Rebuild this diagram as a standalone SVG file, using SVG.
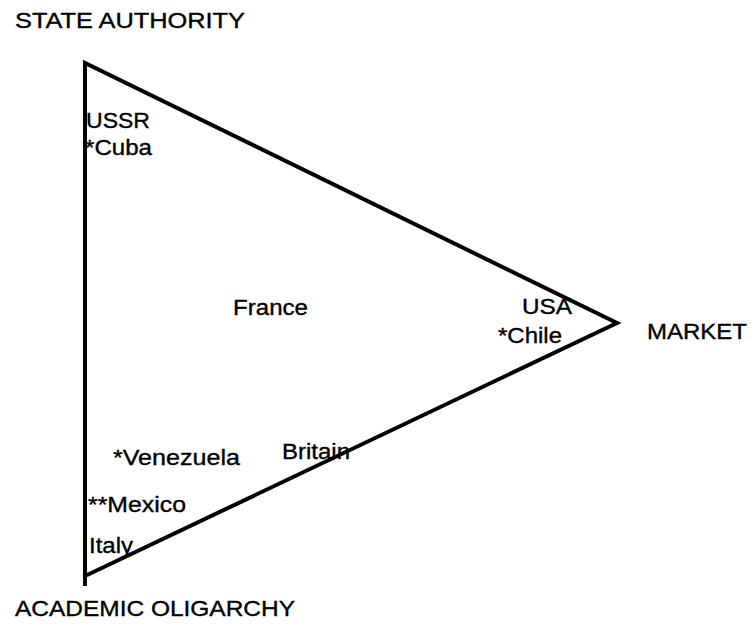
<svg xmlns="http://www.w3.org/2000/svg" width="755" height="628" viewBox="0 0 755 628">
<style>
text{font-family:"Liberation Sans",Arial,sans-serif;font-size:22px;fill:#000;stroke:#000;stroke-width:0.35}
.ax{font-size:22px}
.tri{fill:none;stroke:#000;stroke-width:4;stroke-linejoin:miter}
</style>
<rect width="755" height="628" fill="#fff"/>
<g id="connectors">
<path class="tri" d="M85,586 L85,63 L617,323 L85,576"/>
</g>
<g id="state-authority"><text class="ax" x="15" y="28" textLength="230" lengthAdjust="spacingAndGlyphs">STATE AUTHORITY</text></g>
<g id="market"><text class="ax" x="647" y="339" textLength="100" lengthAdjust="spacingAndGlyphs">MARKET</text></g>
<g id="academic-oligarchy"><text class="ax" x="15" y="616" textLength="280" lengthAdjust="spacingAndGlyphs">ACADEMIC OLIGARCHY</text></g>
<g id="ussr"><text x="86" y="128" textLength="64" lengthAdjust="spacingAndGlyphs">USSR</text></g>
<g id="cuba"><text x="85" y="155" textLength="67" lengthAdjust="spacingAndGlyphs">*Cuba</text></g>
<g id="france"><text x="233" y="315" textLength="75" lengthAdjust="spacingAndGlyphs">France</text></g>
<g id="usa"><text x="522" y="314" textLength="50" lengthAdjust="spacingAndGlyphs">USA</text></g>
<g id="chile"><text x="498" y="343" textLength="64" lengthAdjust="spacingAndGlyphs">*Chile</text></g>
<g id="venezuela"><text x="113" y="465" textLength="127" lengthAdjust="spacingAndGlyphs">*Venezuela</text></g>
<g id="britain"><text x="282" y="459" textLength="68" lengthAdjust="spacingAndGlyphs">Britain</text></g>
<g id="mexico"><text x="88" y="512" textLength="98" lengthAdjust="spacingAndGlyphs">**Mexico</text></g>
<g id="italy"><text x="89" y="553" textLength="44" lengthAdjust="spacingAndGlyphs">Italy</text></g>
</svg>
